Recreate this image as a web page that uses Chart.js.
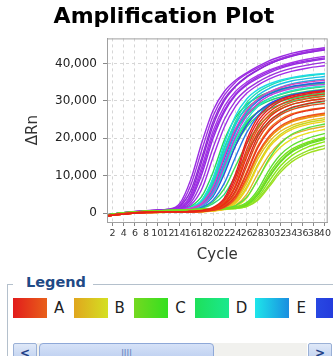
<!DOCTYPE html>
<html>
<head>
<meta charset="utf-8">
<script src="https://cdn.jsdelivr.net/npm/chart.js@4/dist/chart.umd.min.js"></script>
<style>
  body { margin: 0; background: #fff; width: 333px; height: 356px; overflow: hidden; position: relative; font-family: "DejaVu Sans", sans-serif; }
  #wrap { position: absolute; left: 0; top: 0; width: 333px; height: 268px; }
  #legend { position: absolute; left: 7px; top: 284px; width: 330px; height: 80px; border-left: 1px solid #b4c0cc; }
  #legend .line { position: absolute; top: 0; height: 1px; background: #b4c0cc; }
  #legend .cap { position: absolute; left: 18px; top: -10px; font: bold 14.5px "DejaVu Sans", sans-serif; color: #1f4a86; }
  .sw { position: absolute; top: 14px; width: 34px; height: 20px; }
  .lb { position: absolute; top: 14px; font: 15px "DejaVu Sans", sans-serif; color: #222; line-height: 21px; }
  .btn { position: absolute; top: 59px; width: 22px; height: 19px; border: 1px solid #9ab0d6; border-radius: 2px; background: linear-gradient(#dfe8f8, #b8ccee); color: #1f3f86; font: bold 12px "DejaVu Sans", sans-serif; text-align: center; line-height: 18px; }
  .track { position: absolute; left: 29px; top: 59px; width: 270px; height: 20px; background: #f1f1ee; }
  .thumb { position: absolute; left: 31px; top: 59px; width: 173px; height: 19px; border: 1px solid #8ea8d8; border-radius: 4px; background: linear-gradient(#d6e2f8, #b6caee); color: #6a86c0; font: 9px "DejaVu Sans", sans-serif; text-align: center; line-height: 19px; }
</style>
</head>
<body>
<div id="wrap"><canvas id="myChart" width="333" height="268"></canvas></div>
<div id="legend"></div>
<script>
const cycles = [1, 4, 8, 12, 14, 16, 18, 20, 22, 24, 26, 28, 30, 32, 34, 37, 40];
const xTicks = [2, 4, 6, 8, 10, 12, 14, 16, 18, 20, 22, 24, 26, 28, 30, 32, 34, 36, 38, 40];
const yTicks = [0, 10000, 20000, 30000, 40000];

const purpleRuns = [
  [-500, 100, 600, 1000, 2500, 9000, 19000, 27500, 32500, 35500, 37500, 39200, 40700, 41800, 42700, 43600, 44200],
  [-600, 0, 500, 900, 2000, 7500, 17000, 26000, 31500, 35000, 37200, 38800, 40200, 41300, 42200, 43200, 43900],
  [-500, 100, 600, 1000, 1800, 6000, 15000, 24500, 30500, 34000, 36500, 38300, 39800, 41000, 41900, 42900, 43600],
  [-700, 0, 500, 900, 1500, 4500, 12500, 22000, 28500, 32500, 35000, 36800, 38200, 39300, 40200, 41200, 41900],
  [-600, 0, 500, 800, 1300, 3500, 10500, 20000, 27000, 31500, 34200, 36000, 37500, 38700, 39600, 40500, 41200],
  [-500, 100, 600, 900, 1200, 2800, 8500, 17500, 25000, 30000, 33000, 35000, 36600, 37800, 38700, 39600, 40300],
  [-600, 0, 500, 800, 1100, 2200, 6500, 15000, 23000, 28500, 32000, 34200, 35800, 37000, 37900, 38800, 39400],
  [-500, 0, 500, 900, 1400, 5000, 14000, 23500, 30000, 33800, 36300, 38200, 39800, 41000, 42000, 43000, 43800],
  [-600, 0, 500, 900, 1600, 4000, 11500, 21000, 27500, 31800, 34500, 36400, 37900, 39000, 39900, 40800, 41500]
];
const greenRuns = [
  [-600, 0, 500, 800, 1000, 1800, 4500, 11000, 19500, 25500, 29000, 31000, 32300, 33200, 33800, 34400, 34800],
  [-500, 0, 400, 700, 900, 1500, 3500, 9000, 17500, 24000, 28000, 30300, 31800, 32800, 33500, 34200, 34600],
  [-600, 0, 500, 700, 900, 1300, 2800, 7500, 15500, 22000, 26000, 28500, 30000, 31000, 31800, 32600, 33100],
  [-500, 100, 500, 800, 900, 1200, 2300, 6000, 13000, 20000, 24500, 27000, 28800, 30000, 30800, 31600, 32200],
  [-600, 0, 400, 700, 800, 1100, 2000, 5000, 11000, 18000, 23000, 26000, 27800, 29000, 29900, 30800, 31400],
  [-500, 0, 500, 800, 900, 1300, 3000, 8000, 16000, 22500, 26500, 29000, 30600, 31700, 32500, 33300, 33800],
  [-600, 0, 400, 700, 900, 1200, 2200, 5500, 12000, 19000, 24000, 27000, 28700, 29800, 30600, 31400, 31900],
  [-500, 0, 400, 600, 800, 1000, 1500, 3000, 6500, 12500, 18500, 23000, 26000, 27800, 29000, 30000, 30600],
  [-600, 0, 400, 600, 700, 900, 1300, 2500, 5000, 10000, 16000, 21000, 24500, 26600, 28000, 29200, 29800]
];
const cyanRuns = [
  [-600, 0, 500, 800, 1000, 1500, 3500, 9500, 18500, 26000, 30500, 33000, 34500, 35500, 36200, 36900, 37300],
  [-500, 0, 500, 700, 900, 1300, 2800, 7500, 16000, 23500, 28500, 31500, 33300, 34500, 35300, 36000, 36500],
  [-600, 0, 400, 700, 900, 1200, 2300, 6000, 13500, 21500, 27000, 30300, 32300, 33600, 34500, 35300, 35800],
  [-500, 100, 500, 800, 900, 1100, 2000, 5000, 11500, 19500, 25000, 28500, 30500, 31800, 32700, 33500, 34000],
  [-600, 0, 500, 700, 900, 1200, 2500, 6500, 14500, 22000, 27000, 30000, 31800, 33000, 33800, 34500, 35000],
  [-500, 0, 400, 700, 800, 1100, 1900, 4500, 10500, 18000, 23500, 27000, 29200, 30600, 31500, 32300, 32800],
  [-600, 0, 500, 800, 1000, 1400, 3000, 8500, 17000, 24500, 29500, 32300, 34000, 35200, 36000, 36700, 37200],
  [-500, 0, 400, 700, 800, 1000, 1600, 3500, 8000, 15000, 21500, 26000, 28800, 30500, 31500, 32400, 33000]
];
const magentaRuns = [
  [-500, 0, 500, 800, 900, 1300, 2700, 7000, 15000, 22500, 27500, 30500, 32300, 33500, 34300, 35000, 35500],
  [-600, 0, 400, 700, 900, 1200, 2200, 5500, 12500, 20500, 26000, 29300, 31300, 32500, 33300, 34000, 34400]
];
const redRuns = [
  [-800, -300, 200, 300, 300, 400, 700, 1500, 4000, 10500, 19500, 25500, 28500, 30300, 31300, 32200, 32700],
  [-700, -200, 200, 300, 300, 400, 600, 1200, 3200, 8500, 17000, 23500, 27000, 29000, 30200, 31200, 31800],
  [-800, -300, 100, 200, 300, 300, 500, 1000, 2500, 7000, 15000, 21500, 25500, 27700, 29000, 30000, 30600],
  [-700, -200, 200, 300, 300, 400, 500, 900, 2000, 5500, 12500, 19500, 23800, 26200, 27600, 28700, 29300],
  [-800, -300, 100, 200, 300, 300, 400, 800, 1700, 4500, 10500, 17500, 22000, 24600, 26200, 27400, 28100],
  [-700, -200, 200, 300, 300, 400, 500, 1000, 2200, 6000, 13500, 20500, 24500, 26800, 28200, 29300, 30000],
  [-800, -300, 100, 200, 300, 300, 400, 700, 1500, 4000, 9500, 16000, 20500, 23200, 24800, 26000, 26700],
  [-700, -200, 200, 300, 300, 400, 600, 1300, 3500, 9500, 18500, 24500, 27800, 29800, 30900, 31900, 32500],
  [-800, -300, 100, 200, 300, 400, 500, 1100, 2800, 7500, 16000, 22500, 26200, 28300, 29600, 30600, 31200],
  [-700, -200, 200, 300, 300, 400, 500, 900, 1800, 4800, 11000, 18000, 22500, 25000, 26500, 27600, 28200],
  [-800, -300, 100, 200, 300, 300, 400, 800, 1500, 3800, 9000, 15500, 20000, 22700, 24300, 25500, 26200]
];
const yellowRuns = [
  [-700, -200, 200, 300, 300, 300, 400, 700, 1300, 3200, 8000, 14500, 19000, 21800, 23400, 24700, 25500],
  [-800, -300, 100, 200, 200, 300, 400, 600, 1100, 2500, 6500, 12500, 17500, 20500, 22300, 23700, 24500],
  [-700, -200, 200, 300, 300, 300, 400, 600, 1000, 2000, 5000, 10500, 15500, 18800, 20800, 22300, 23200],
  [-800, -300, 100, 200, 200, 300, 300, 500, 900, 1700, 4000, 9000, 14000, 17500, 19700, 21400, 22400],
  [-700, -200, 200, 300, 300, 300, 400, 700, 1400, 3500, 8800, 15500, 20000, 22800, 24500, 25800, 26500],
  [-800, -300, 100, 200, 200, 300, 400, 600, 1200, 2800, 7000, 13000, 18000, 21000, 22800, 24200, 25000]
];
const limeRuns = [
  [-600, 0, 500, 700, 800, 900, 1000, 1100, 1200, 1500, 2500, 5500, 10500, 14500, 17000, 19000, 20300],
  [-500, 100, 500, 700, 800, 900, 1000, 1100, 1200, 1400, 2200, 4800, 9500, 13500, 16200, 18400, 19700],
  [-600, 0, 400, 600, 700, 800, 900, 1000, 1100, 1300, 2000, 4200, 8500, 12500, 15300, 17700, 19100],
  [-500, 100, 500, 700, 800, 900, 1000, 1100, 1200, 1600, 2800, 6200, 11500, 15500, 18000, 20000, 21300],
  [-600, 0, 400, 600, 700, 800, 900, 1000, 1100, 1200, 1800, 3700, 7500, 11500, 14300, 16700, 18100],
  [-500, 0, 500, 700, 800, 900, 1000, 1100, 1200, 1400, 2300, 5000, 9800, 13800, 16500, 18700, 20000],
  [-600, 0, 400, 600, 700, 800, 900, 1000, 1100, 1200, 1700, 3400, 7000, 10800, 13600, 16000, 17300],
  [-500, 100, 500, 700, 800, 900, 1000, 1100, 1300, 2000, 4200, 9000, 14500, 18500, 21000, 22800, 23800]
];

// line colours, one per run in each group
const redColors = ['#e82018', '#e83a18', '#f02a10', '#e04818', '#e8301c', '#d82818', '#f05020', '#e81e28', '#e05a1a', '#f07818', '#f09010'];
const yellowColors = ['#e8c020', '#f0d018', '#e0b028', '#e8e020', '#d8a818', '#c8d820'];
const limeColors = ['#78e020', '#68d828', '#88e818', '#60e030', '#90e028', '#70e020', '#a0e020', '#58e040'];
const purpleColors = ['#9a2be2', '#a030e0', '#8f28d8', '#a535e6', '#962ee0', '#9c33dc', '#a22ee8', '#932ad6', '#9d2ae4'];
const cyanColors = ['#20d8e8', '#18c0e8', '#20b0e0', '#28e0d0', '#2060e8', '#3048e0', '#20e0b0', '#2878e4'];
const magentaColors = ['#e040c0', '#c040e0'];
const greenColors = ['#22dd5e', '#2ee86a', '#1fd870', '#30e060', '#26e27a', '#3ad858', '#1ee868', '#40e050', '#2ad880'];

const legendNames = ['A', 'B', 'C', 'D', 'E', 'F'];
const legendFills = [
  'linear-gradient(90deg, #e21c1c, #e8601a)',
  'linear-gradient(90deg, #e0a61e, #d4e022)',
  'linear-gradient(90deg, #74d820, #34e020)',
  'linear-gradient(90deg, #1ee05a, #1ae88e)',
  'linear-gradient(90deg, #1ee6ea, #1a8ee0)',
  'linear-gradient(90deg, #2848e2, #2030d8)'
];

function makeSets(runs, colors) {
  return runs.map((vals, i) => ({
    data: vals.map((v, j) => ({ x: cycles[j], y: v })),
    borderColor: colors[i],
    borderWidth: 1.4,
    pointRadius: 0,
    fill: false,
    cubicInterpolationMode: 'monotone'
  }));
}

const datasets = [].concat(
  makeSets(redRuns, redColors),
  makeSets(limeRuns, limeColors),
  makeSets(yellowRuns, yellowColors),
  makeSets(purpleRuns, purpleColors),
  makeSets(magentaRuns, magentaColors),
  makeSets(cyanRuns, cyanColors),
  makeSets(greenRuns, greenColors)
);

// frame around the plot area (top and right edges too)
const frame = {
  id: 'frame',
  afterDraw(chart) {
    const a = chart.chartArea, c = chart.ctx;
    c.save();
    c.strokeStyle = '#a0a0a0';
    c.lineWidth = 1;
    c.strokeRect(a.left + 0.5, a.top + 0.5, a.right - a.left - 1, a.bottom - a.top);
    c.restore();
  }
};

const ctx = document.getElementById('myChart');
new Chart(ctx, {
  type: 'line',
  data: { datasets },
  plugins: [frame],
  options: {
    responsive: false,
    animation: false,
    layout: { padding: { left: 0, right: 5, top: 0, bottom: 0 } },
    plugins: {
      legend: { display: false },
      tooltip: { enabled: false },
      title: {
        display: true,
        text: 'Amplification Plot',
        color: '#000',
        font: { family: 'DejaVu Sans', size: 22, weight: 'bold' },
        padding: { top: 4, bottom: 8 }
      }
    },
    scales: {
      x: {
        type: 'linear',
        min: 1,
        max: 40.5,
        afterFit: s => { s.height = 46; },
        afterBuildTicks: s => { s.ticks = xTicks.map(v => ({ value: v })); },
        ticks: { autoSkip: false, maxRotation: 0, minRotation: 0, padding: 2, color: '#333', font: { family: 'DejaVu Sans', size: 9.5 } },
        grid: { color: '#d6d6d6', tickColor: '#888', tickLength: 4 },
        border: { color: '#a0a0a0', dash: [3, 3] },
        title: { display: true, text: 'Cycle', color: '#333', font: { family: 'DejaVu Sans', size: 15 }, padding: { top: 4, bottom: 4 } }
      },
      y: {
        min: -2400,
        max: 46700,
        afterFit: s => { s.width = 107; },
        afterBuildTicks: s => { s.ticks = yTicks.map(v => ({ value: v })); },
        ticks: { padding: 6, color: '#222', font: { family: 'DejaVu Sans', size: 12 }, callback: v => v.toLocaleString('en-US') },
        grid: { color: '#d6d6d6', tickColor: '#888', tickLength: 4 },
        border: { color: '#a0a0a0', dash: [3, 3] },
        title: { display: true, text: 'ΔRn', color: '#333', font: { family: 'DejaVu Sans', size: 15 }, padding: { top: 24, bottom: 0 } }
      }
    }
  }
});

// legend panel under the chart
const lg = document.getElementById('legend');
let html = '<div class="line" style="left:0;width:5px"></div><div class="line" style="left:85px;width:250px"></div>';
html += '<div class="cap">Legend</div>';
legendNames.forEach((name, i) => {
  const x = 5 + i * 60.6;
  html += '<div class="sw" style="left:' + x + 'px;background:' + legendFills[i] + '"></div>';
  html += '<div class="lb" style="left:' + (x + 41) + 'px">' + name + '</div>';
});
html += '<div class="track"></div>';
html += '<div class="btn" style="left:5px">&lt;</div>';
html += '<div class="thumb">IIII</div>';
html += '<div class="btn" style="left:300px">&gt;</div>';
lg.innerHTML = html;
</script>
</body>
</html>
